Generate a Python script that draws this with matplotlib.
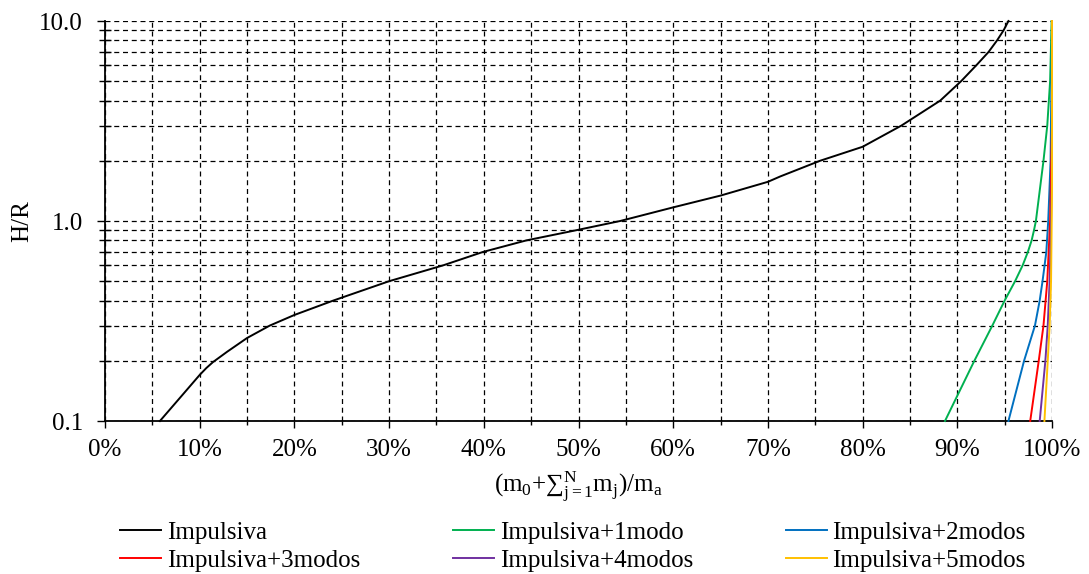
import numpy as np
import matplotlib
matplotlib.use("Agg")
import matplotlib.pyplot as plt
from matplotlib.ticker import MultipleLocator, LogLocator, FixedLocator, NullFormatter, FuncFormatter

plt.rcParams['font.family'] = ['Liberation Serif', 'DejaVu Serif']
plt.rcParams['mathtext.fontset'] = 'custom'
plt.rcParams['mathtext.rm'] = 'Liberation Serif'
plt.rcParams['mathtext.it'] = 'Liberation Serif'
plt.rcParams['font.size'] = 18

# curves: x in %, y = H/R
imp_x = [5.8, 8.0, 10.0, 10.7, 11.4, 12.9, 15.0, 17.4, 20.0, 24.1, 30.0, 35.7, 39.9, 44.5, 49.8,
         54.4, 60.0, 65.0, 70.0, 71.3, 75.5, 80.0, 84.1, 88.2, 90.4, 92.0, 93.3, 94.2, 94.9, 95.4]
imp_y = [0.1, 0.132, 0.17, 0.184, 0.197, 0.222, 0.26, 0.30, 0.339, 0.40, 0.50, 0.60, 0.70, 0.80, 0.90,
         1.0, 1.17, 1.34, 1.57, 1.67, 2.0, 2.35, 3.0, 4.0, 5.0, 6.0, 7.0, 8.0, 9.0, 10.0]

m1_x = [88.7, 91.8, 93.7, 95.0, 96.1, 96.9, 97.45, 97.85, 98.1, 98.3, 99.1, 99.5, 99.8, 99.96]
m1_y = [0.1, 0.2, 0.3, 0.4, 0.5, 0.6, 0.7, 0.8, 0.9, 1.0, 2.0, 3.0, 5.0, 10.0]

m2_x = [95.4, 97.05, 98.2, 98.7, 99.0, 99.4, 99.6, 99.85, 100.0]
m2_y = [0.1, 0.2, 0.3, 0.4, 0.5, 0.7, 1.0, 2.0, 10.0]

m3_x = [97.7, 98.6, 99.1, 99.5, 99.8, 100.0, 100.0]
m3_y = [0.1, 0.2, 0.3, 0.5, 1.0, 3.0, 10.0]

m4_x = [98.7, 99.3, 99.55, 99.75, 99.9, 100.0, 100.0]
m4_y = [0.1, 0.2, 0.3, 0.5, 1.0, 2.0, 10.0]

m5_x = [99.2, 99.55, 99.75, 99.9, 99.97, 100.0, 100.0]
m5_y = [0.1, 0.2, 0.3, 0.5, 1.0, 1.5, 10.0]

labels = ["Impulsiva", "Impulsiva+1modo", "Impulsiva+2modos",
          "Impulsiva+3modos", "Impulsiva+4modos", "Impulsiva+5modos"]
colors = ["black", "#00B050", "#0070C0", "#FF0000", "#7030A0", "#FFC000"]

fig = plt.figure(figsize=(10.89, 5.74), dpi=100)
ax = fig.add_axes([105/1089, 1 - 421/574, (1052 - 105)/1089, 400/574])

series = [(imp_x, imp_y), (m1_x, m1_y), (m2_x, m2_y), (m3_x, m3_y), (m4_x, m4_y), (m5_x, m5_y)]
handles = []
for (xs, ys), lab, c in zip(series, labels, colors):
    h, = ax.plot(np.array(xs) / 100, ys, color=c, lw=1.4, label=lab, zorder=3, clip_on=False)
    handles.append(h)

ax.set_yscale("log")
ax.set_xlim(0, 1)
ax.set_ylim(0.1, 10)

ax.xaxis.set_major_locator(MultipleLocator(0.1))
ax.xaxis.set_minor_locator(MultipleLocator(0.05))
ax.xaxis.set_major_formatter(FuncFormatter(lambda v, p: f"{v*100:.0f}%"))
ax.yaxis.set_major_locator(FixedLocator([0.1, 1, 10]))
ax.yaxis.set_major_formatter(FuncFormatter(lambda v, p: f"{v:.1f}"))
ax.yaxis.set_minor_locator(LogLocator(base=10, subs=np.arange(2, 10)))
ax.yaxis.set_minor_formatter(NullFormatter())

ax.tick_params(axis="x", which="major", direction="out", length=5, width=1, pad=8)
ax.tick_params(axis="x", which="minor", direction="out", length=3, width=1)
ax.tick_params(axis="y", which="major", direction="out", length=6, width=1, pad=10)
ax.tick_params(axis="y", which="minor", direction="inout", length=8, width=1)

ax.grid(True, which="both", color="black", lw=0.9, ls=(0, (4, 3)))
ax.set_axisbelow(True)

for s in ["top", "right"]:
    ax.spines[s].set_visible(False)
for s in ["left", "bottom"]:
    ax.spines[s].set_linewidth(1.3)

ax.set_ylabel("H/R", labelpad=4.5)
ax.set_xlabel(r"(m$_{\mathrm{0}}$+∑${}^{\mathrm{N}}_{\mathrm{j=1}}$m$_{\mathrm{j}}$)/m$_{\mathrm{a}}$", labelpad=6)

order = [0, 3, 1, 4, 2, 5]
fig.legend([handles[i] for i in order], [labels[i] for i in order], ncol=3,
           loc="upper left", bbox_to_anchor=(120/1089, 1 - 521/574), frameon=False,
           handlelength=1.64, handletextpad=0.24, columnspacing=3.7,
           labelspacing=0.22, borderaxespad=0, borderpad=0)

fig.savefig("out.png", dpi=100)
